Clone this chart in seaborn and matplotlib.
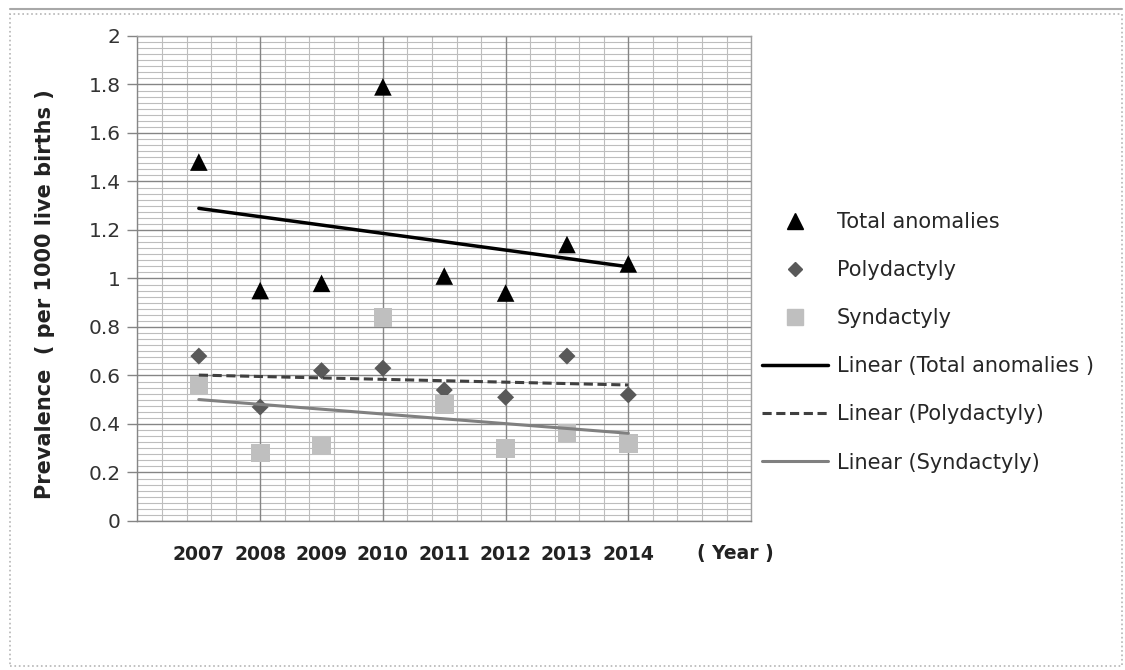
import matplotlib
matplotlib.use("Agg")
import matplotlib.pyplot as plt
import numpy as np
import pandas as pd
import seaborn as sns
from matplotlib.lines import Line2D
from matplotlib.patches import Rectangle
from matplotlib.ticker import MultipleLocator, FuncFormatter

years = [2007, 2008, 2009, 2010, 2011, 2012, 2013, 2014]
total_anomalies = [1.48, 0.95, 0.98, 1.79, 1.01, 0.94, 1.14, 1.06]
polydactyly = [0.68, 0.47, 0.62, 0.63, 0.54, 0.51, 0.68, 0.52]
syndactyly = [0.56, 0.28, 0.31, 0.84, 0.48, 0.30, 0.36, 0.32]
year_labels = ["2007", "2008", "2009", "2010", "2011", "2012", "2013", "2014"]

df = pd.DataFrame({
    "Year": years,
    "Total anomalies": total_anomalies,
    "Polydactyly": polydactyly,
    "Syndactyly": syndactyly,
})

sns.set_style("white")
plt.rcParams["font.family"] = ["DejaVu Sans"]

fig = plt.figure(figsize=(11.25, 6.7), dpi=100)
ax = fig.add_axes([0.1222, 0.2224, 0.5454, 0.7239])

# outer chart frame
fig.add_artist(Rectangle((10 / 1125, 4 / 670), 1112 / 1125, 652 / 670, transform=fig.transFigure,
                         fill=False, edgecolor="#b5b5b5", linewidth=1.2, linestyle=":"))
fig.add_artist(Line2D([10 / 1125, 1122 / 1125], [661 / 670, 661 / 670], transform=fig.transFigure,
                      color="#a8a8a8", linewidth=1.5))

ax.set_xlim(2006, 2016)
ax.set_ylim(0, 2)

# grid: dense minor lines, darker majors
ax.xaxis.set_minor_locator(MultipleLocator(0.4))
ax.yaxis.set_major_locator(MultipleLocator(0.2))
ax.yaxis.set_minor_locator(MultipleLocator(0.025))
ax.grid(which="minor", axis="both", color="#bdbdbd", linewidth=0.8)
ax.grid(which="major", axis="y", color="#858585", linewidth=1.0)
ax.grid(which="major", axis="x", visible=False)
for x in np.arange(2008, 2016, 2):
    ax.axvline(x, color="#858585", linewidth=1.0, zorder=0.6)
ax.set_axisbelow(True)

ax.set_xticks(years)
ax.set_xticklabels(year_labels, fontsize=13.5, fontweight="bold", color="#222222")
ax.tick_params(axis="x", which="both", length=0, pad=17)
ax.tick_params(axis="y", which="major", length=7, width=1.0, color="#858585",
               labelsize=14.5, labelcolor="#333333", pad=5, left=True)
ax.tick_params(axis="y", which="minor", length=0)
ax.yaxis.set_major_formatter(FuncFormatter(lambda v, p: f"{v:g}"))

for side in ["left", "bottom"]:
    ax.spines[side].set_color("#858585")
    ax.spines[side].set_linewidth(1.0)
for side in ["right", "top"]:
    ax.spines[side].set_color("#a0a0a0")
    ax.spines[side].set_linewidth(1.0)

# markers
sns.scatterplot(data=df, x="Year", y="Total anomalies", marker="^", s=160, color="black",
                edgecolor="none", ax=ax, zorder=3)
sns.scatterplot(data=df, x="Year", y="Polydactyly", marker="D", s=75, color="#595959",
                edgecolor="none", ax=ax, zorder=3)
sns.scatterplot(data=df, x="Year", y="Syndactyly", marker="s", s=180, color="#bfbfbf",
                edgecolor="none", ax=ax, zorder=3)

# linear trendlines
sns.regplot(data=df, x="Year", y="Total anomalies", scatter=False, ci=None, ax=ax,
            line_kws={"color": "black", "linewidth": 2.5, "zorder": 4})
sns.regplot(data=df, x="Year", y="Polydactyly", scatter=False, ci=None, ax=ax,
            line_kws={"color": "#404040", "linewidth": 2.2, "linestyle": (0, (3, 1.5)), "zorder": 4})
sns.regplot(data=df, x="Year", y="Syndactyly", scatter=False, ci=None, ax=ax,
            line_kws={"color": "#808080", "linewidth": 2.2, "zorder": 4})

ax.set_xlim(2006, 2016)
ax.set_ylim(0, 2)
ax.set_xlabel("")
ax.set_ylabel("")

fig.text(45 / 1125, 1 - 294 / 670, "Prevalence  ( per 1000 live births )", rotation=90,
         ha="center", va="center", fontsize=15, fontweight="bold", color="#222222")
fig.text(697 / 1125, 1 - 554 / 670, "( Year )", fontsize=13.5, fontweight="bold",
         color="#222222", ha="left", va="center")

handles = [
    Line2D([], [], linestyle="none", marker="^", markersize=11, color="black"),
    Line2D([], [], linestyle="none", marker="D", markersize=7, color="#595959"),
    Line2D([], [], linestyle="none", marker="s", markersize=11, color="#bfbfbf"),
    Line2D([], [], color="black", linewidth=2.5),
    Line2D([], [], color="#404040", linewidth=2.2, linestyle=(0, (3, 1.5))),
    Line2D([], [], color="#808080", linewidth=2.2),
]
labels = ["Total anomalies", "Polydactyly", "Syndactyly",
          "Linear (Total anomalies )", "Linear (Polydactyly)", "Linear (Syndactyly)"]
fig.legend(handles, labels, loc="upper left", bbox_to_anchor=(762 / 1125, 1 - 212 / 670),
           frameon=False, fontsize=15, handlelength=3.15, handletextpad=0.45,
           labelspacing=1.35, borderaxespad=0, borderpad=0)

fig.savefig("out.png", dpi=100)
